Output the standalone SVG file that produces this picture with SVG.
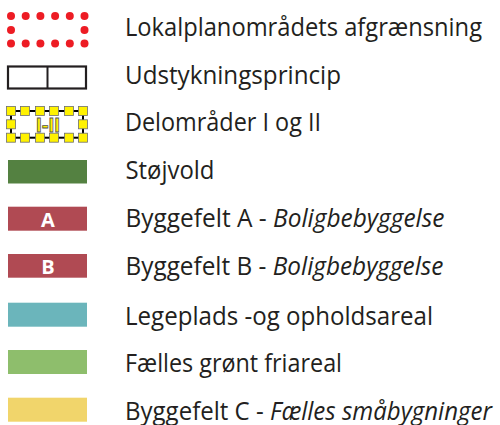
<svg xmlns="http://www.w3.org/2000/svg" width="500" height="425" viewBox="0 0 500 425">
<style>
.lbl{font-family:"Open Sans","Noto Sans","Liberation Sans",sans-serif;font-size:25px;fill:#231f20}
.it{font-style:italic}
.dot{fill:#ed1c24}
.sq{fill:#fff200;stroke:#6d6e71;stroke-width:0.8}
.badge{font-family:"Open Sans","Liberation Sans",sans-serif;font-weight:bold;font-size:20px;fill:#fff;text-anchor:middle}
</style>
<rect width="500" height="425" fill="#fff"/>
<g id="boundary">
<circle class="dot" cx="11" cy="16" r="4"/><circle class="dot" cx="25.7" cy="16" r="4"/><circle class="dot" cx="40.4" cy="16" r="4"/><circle class="dot" cx="55.1" cy="16" r="4"/><circle class="dot" cx="69.8" cy="16" r="4"/><circle class="dot" cx="84.5" cy="16" r="4"/>
<circle class="dot" cx="11" cy="30" r="4"/><circle class="dot" cx="84.5" cy="30" r="4"/>
<circle class="dot" cx="11" cy="43.5" r="4"/><circle class="dot" cx="25.7" cy="43.5" r="4"/><circle class="dot" cx="40.4" cy="43.5" r="4"/><circle class="dot" cx="55.1" cy="43.5" r="4"/><circle class="dot" cx="69.8" cy="43.5" r="4"/><circle class="dot" cx="84.5" cy="43.5" r="4"/>
<text class="lbl" x="125" y="36" textLength="357" lengthAdjust="spacingAndGlyphs">Lokalplanområdets afgrænsning</text>
</g>
<g id="udstykning">
<rect x="8" y="66.5" width="78" height="22" fill="none" stroke="#231f20" stroke-width="2.2"/>
<line x1="47.5" y1="66.5" x2="47.5" y2="88.5" stroke="#231f20" stroke-width="2"/>
<text class="lbl" x="125" y="84" textLength="216" lengthAdjust="spacingAndGlyphs">Udstykningsprincip</text>
</g>
<g id="delomraader">
<rect x="11" y="111" width="72" height="26.7" fill="none" stroke="#000" stroke-width="2"/>
<rect class="sq" x="6.5" y="106.5" width="9" height="9"/><rect class="sq" x="20.5" y="106.5" width="9" height="9"/><rect class="sq" x="35.5" y="106.5" width="9" height="9"/><rect class="sq" x="49.5" y="106.5" width="9" height="9"/><rect class="sq" x="64.5" y="106.5" width="9" height="9"/><rect class="sq" x="78.5" y="106.5" width="9" height="9"/>
<rect class="sq" x="6.5" y="119.8" width="9" height="9"/><rect class="sq" x="78.5" y="119.8" width="9" height="9"/>
<rect class="sq" x="6.5" y="133.2" width="9" height="9"/><rect class="sq" x="20.5" y="133.2" width="9" height="9"/><rect class="sq" x="35.5" y="133.2" width="9" height="9"/><rect class="sq" x="49.5" y="133.2" width="9" height="9"/><rect class="sq" x="64.5" y="133.2" width="9" height="9"/><rect class="sq" x="78.5" y="133.2" width="9" height="9"/>
<text x="48" y="132" text-anchor="middle" font-family="'Liberation Sans',sans-serif" font-weight="bold" font-size="21" fill="#fff200" stroke="#555" stroke-width="0.8" textLength="24" lengthAdjust="spacingAndGlyphs">I-II</text>
<text class="lbl" x="125" y="131" textLength="196" lengthAdjust="spacingAndGlyphs">Delområder I og II</text>
</g>
<g id="stoejvold">
<rect x="8" y="160" width="79" height="23.5" fill="#548141"/>
<text class="lbl" x="125.5" y="178.5" textLength="89" lengthAdjust="spacingAndGlyphs">Støjvold</text>
</g>
<g id="byggefeltA">
<rect x="8" y="206.7" width="79" height="24" fill="#b04a53"/>
<text class="badge" x="48" y="226.5">A</text>
<text class="lbl" x="125.5" y="226.5" textLength="319" lengthAdjust="spacingAndGlyphs">Byggefelt A - <tspan class="it">Boligbebyggelse</tspan></text>
</g>
<g id="byggefeltB">
<rect x="8" y="254" width="79" height="23.7" fill="#b04a53"/>
<text class="badge" x="48" y="273.5">B</text>
<text class="lbl" x="125.5" y="275" textLength="318" lengthAdjust="spacingAndGlyphs">Byggefelt B - <tspan class="it">Boligbebyggelse</tspan></text>
</g>
<g id="legeplads">
<rect x="8" y="302.7" width="79" height="24" fill="#6bb5bb"/>
<text class="lbl" x="125" y="325" textLength="308" lengthAdjust="spacingAndGlyphs">Legeplads -og opholdsareal</text>
</g>
<g id="friareal">
<rect x="8" y="350" width="79" height="24" fill="#8ebe6c"/>
<text class="lbl" x="125" y="372" textLength="217" lengthAdjust="spacingAndGlyphs">Fælles grønt friareal</text>
</g>
<g id="byggefeltC">
<rect x="8" y="397.7" width="79" height="24" fill="#f1d56b"/>
<text class="lbl" x="125" y="420" textLength="367" lengthAdjust="spacingAndGlyphs">Byggefelt C - <tspan class="it">Fælles småbygninger</tspan></text>
</g>
</svg>
